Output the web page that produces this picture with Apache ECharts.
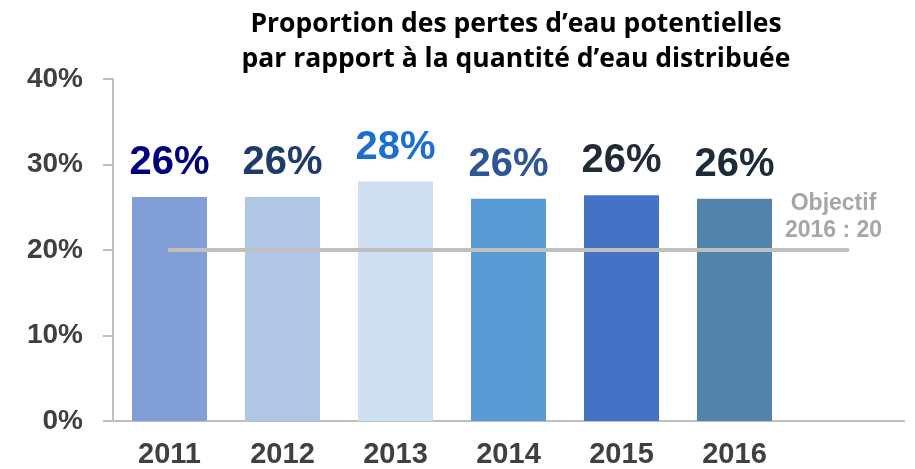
<!DOCTYPE html>
<html>
<head>
<meta charset="utf-8">
<script src="https://cdn.jsdelivr.net/npm/echarts@6/dist/echarts.min.js"></script>
<style>
  html, body { margin: 0; padding: 0; background: #fff; }
  #chart { width: 915px; height: 469px; }
</style>
</head>
<body>
<div id="chart"></div>
<script>
// years (last slot is empty, it just carries the end of the objective line)
var years = ["2011", "2012", "2013", "2014", "2015", "2016", ""];
var pertes = [26.2, 26.2, 28.0, 26.0, 26.4, 26.0];
var barColors = ["#819fd6", "#b0c6e6", "#cddff0", "#5b9bd5", "#4472c4", "#5283aa"];
var labelColors = ["#00007f", "#1f3b6a", "#1a6fd0", "#2e5597", "#212a36", "#1d2a39"];
var objectif = [20, 20, 20, 20, 20, 20, 20];
var yTicks = [0, 10, 20, 30, 40];

var chart = echarts.init(document.getElementById("chart"));

var barData = pertes.map(function (v, i) {
  return {
    value: v,
    itemStyle: { color: barColors[i] },
    label: { color: labelColors[i] },
  };
});

var lineData = objectif.map(function (v, i) {
  if (i === objectif.length - 1) {
    return {
      value: v,
      label: {
        show: true,
        position: "top",
        distance: 6,
        offset: [-14, 0],
        formatter: "Objectif\n2016 : 20",
        color: "#a6a6a6",
        fontFamily: "Liberation Sans",
        fontWeight: "bold",
        fontSize: 23,
        lineHeight: 27,
      },
    };
  }
  return v;
});

chart.setOption({
  animation: false,
  title: {
    text: "Proportion des pertes d\u2019eau potentielles\npar rapport \u00e0 la quantit\u00e9 d\u2019eau distribu\u00e9e",
    left: 511,
    top: 2,
    textAlign: "center",
    textStyle: {
      fontFamily: "Open Sans",
      fontWeight: "bold",
      fontSize: 26.5,
      lineHeight: 35,
      color: "#000",
    },
  },
  grid: {
    left: 113,
    right: 11,
    top: 79,
    bottom: 46,
    containLabel: false,
  },
  xAxis: {
    type: "category",
    data: years,
    axisLine: { lineStyle: { color: "#bfbfbf", width: 2 } },
    axisTick: { show: false },
    axisLabel: {
      color: "#404040",
      fontFamily: "Liberation Sans",
      fontWeight: "bold",
      fontSize: 29,
      margin: 19,
    },
  },
  yAxis: {
    type: "value",
    min: yTicks[0],
    max: yTicks[yTicks.length - 1],
    interval: 10,
    axisLine: { show: true, lineStyle: { color: "#bfbfbf", width: 2 } },
    axisTick: { show: true, length: 10, lineStyle: { color: "#bfbfbf", width: 2 } },
    splitLine: { show: false },
    axisLabel: {
      formatter: "{value}%",
      color: "#404040",
      fontFamily: "Liberation Sans",
      fontWeight: "bold",
      fontSize: 28,
      margin: 30,
    },
  },
  series: [
    {
      name: "Pertes",
      type: "bar",
      data: barData,
      barWidth: 75,
      label: {
        show: true,
        position: "top",
        distance: 14,
        formatter: function (p) {
          return Math.round(p.value) + "%";
        },
        fontFamily: "Liberation Sans",
        fontWeight: "bold",
        fontSize: 40,
      },
    },
    {
      name: "Objectif",
      type: "line",
      data: lineData,
      symbol: "circle",
      symbolSize: 0.1,
      showSymbol: true,
      itemStyle: { color: "#bfbfbf" },
      lineStyle: { color: "#bfbfbf", width: 4, cap: "round" },
      z: 5,
    },
  ],
});
</script>
</body>
</html>
